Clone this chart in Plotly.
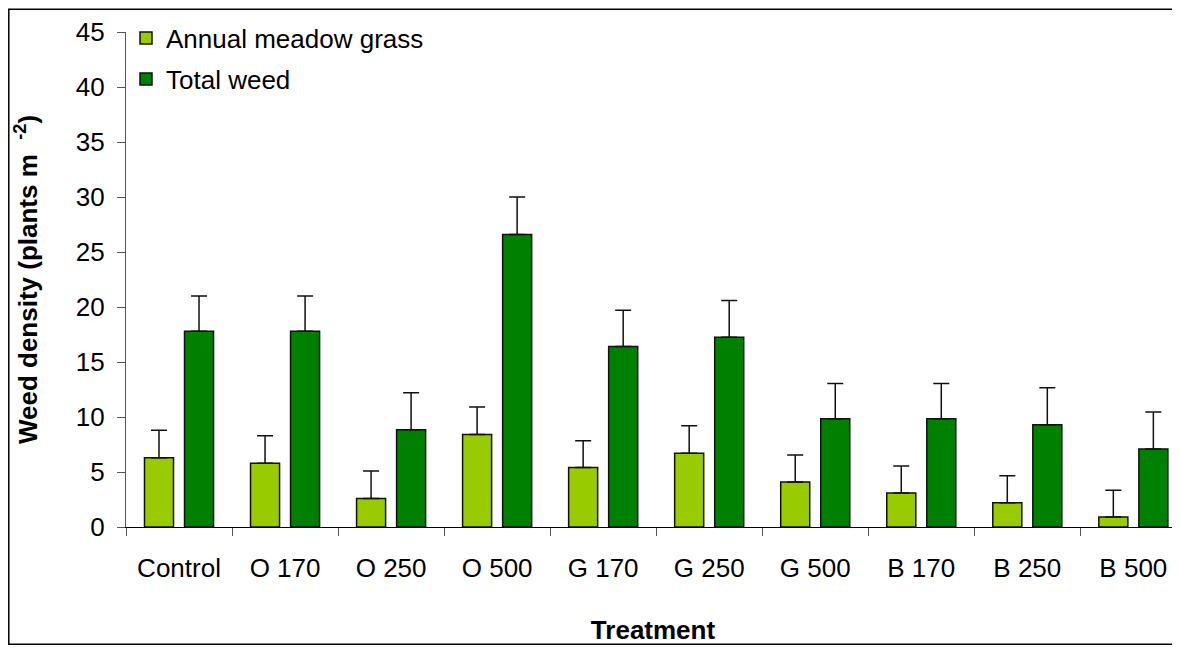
import plotly.graph_objects as go

categories = ["Control", "O 170", "O 250", "O 500", "G 170", "G 250", "G 500", "B 170", "B 250", "B 500"]
amg_values = [6.3, 5.8, 2.6, 8.4, 5.4, 6.7, 4.1, 3.1, 2.2, 0.9]
amg_errors = [2.5, 2.5, 2.5, 2.5, 2.45, 2.5, 2.45, 2.45, 2.45, 2.45]
total_values = [17.8, 17.8, 8.85, 26.6, 16.4, 17.25, 9.85, 9.85, 9.3, 7.1]
total_errors = [3.2, 3.2, 3.35, 3.4, 3.3, 3.35, 3.2, 3.2, 3.35, 3.35]
y_ticks = [0, 5, 10, 15, 20, 25, 30, 35, 40, 45]

FONT = "Liberation Sans, Arial, sans-serif"
FS = 26

fig = go.Figure()
fig.add_trace(go.Bar(
    x=categories, y=amg_values, name="Annual meadow grass", legendgroup="a",
    marker=dict(color="#99CC00", line=dict(color="#111111", width=1.5)),
    error_y=dict(type="data", array=amg_errors, arrayminus=[0]*len(amg_errors),
                 symmetric=False, color="#111111", thickness=1.5, width=8),
))
fig.add_trace(go.Bar(
    x=categories, y=total_values, name="Total weed", legendgroup="b",
    marker=dict(color="#008000", line=dict(color="#111111", width=1.5)),
    error_y=dict(type="data", array=total_errors, arrayminus=[0]*len(total_errors),
                 symmetric=False, color="#111111", thickness=1.5, width=8),
))

# page body has an 8px margin; figure coordinates are shifted accordingly
OFF = 8
W, H = 1180 - OFF, 653 - 2 * OFF
L = 126 - OFF
T = 31.5 - OFF
B = H - (526.7 - OFF)
pw = W - L
ph = H - T - B

fig.update_layout(
    width=W, height=H,
    margin=dict(l=L, r=0, t=T, b=B, pad=0),
    paper_bgcolor="white", plot_bgcolor="white",
    font=dict(family=FONT, size=FS, color="black"),
    barmode="group", bargap=0.245, bargroupgap=0.275,
    showlegend=True,
    legend=dict(x=0.0, y=1.035, xanchor="left", yanchor="top",
                bgcolor="rgba(0,0,0,0)", font=dict(size=FS, family=FONT),
                traceorder="grouped", tracegroupgap=4),
    xaxis=dict(
        type="category", range=[-0.5, 9.44],
        showline=True, linecolor="black", linewidth=1.2,
        ticks="outside", ticklen=8, tickcolor="#555555", tickson="boundaries",
        showgrid=False, zeroline=False, ticklabelstandoff=18,
        tickfont=dict(size=FS, family=FONT),
        title=dict(text="<b>Treatment</b>", font=dict(size=FS, family=FONT), standoff=41),
    ),
    yaxis=dict(
        range=[0, 45], tickvals=y_ticks,
        showline=True, linecolor="#555555", linewidth=1.2,
        ticks="outside", ticklen=8, tickcolor="#555555",
        showgrid=False, zeroline=False, ticklabelstandoff=7,
        tickfont=dict(size=FS, family=FONT),
        title=dict(text="<b>Weed density (plants m  <sup>-2</sup>)</b>",
                   font=dict(size=FS, family=FONT), standoff=30),
    ),
)

# outer chart border: only left, top and bottom edges are visible in the picture
bx0 = (0.8 - L) / pw
bx1 = 1.3
by0 = (H - B - (H - 1)) / ph
by1 = (H - B - 0.8) / ph
fig.add_shape(type="path", xref="paper", yref="paper",
              path=f"M {bx1},{by1} L {bx0},{by1} L {bx0},{by0} L {bx1},{by0}",
              line=dict(color="black", width=1.5), fillcolor="rgba(0,0,0,0)",
              layer="below")

fig.write_html("out.html")
